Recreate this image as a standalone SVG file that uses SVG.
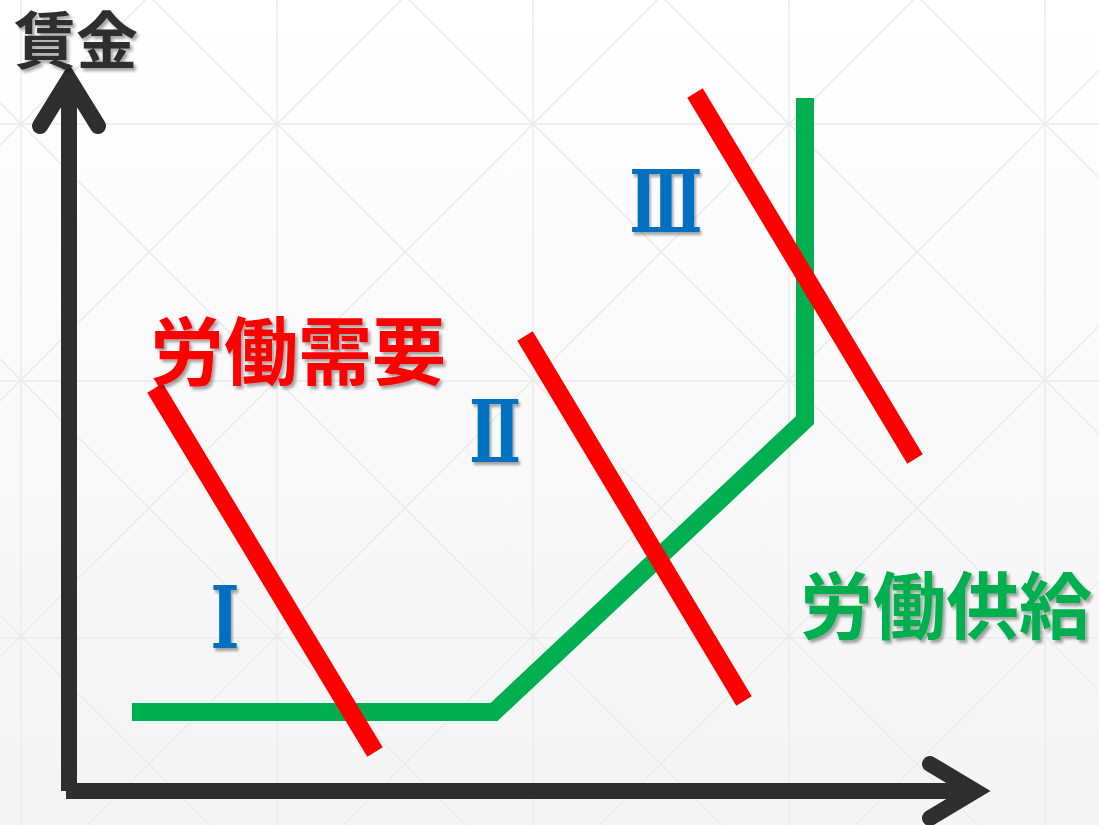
<svg xmlns="http://www.w3.org/2000/svg" width="1099" height="825" viewBox="0 0 1099 825">
<defs>
<linearGradient id="bg" x1="0" y1="0" x2="0" y2="1">
<stop offset="0" stop-color="#ffffff"/>
<stop offset="1" stop-color="#f4f4f4"/>
</linearGradient>
<filter id="sh" x="-10%" y="-10%" width="130%" height="130%">
<feDropShadow dx="2.5" dy="3" stdDeviation="1.5" flood-color="#000" flood-opacity="0.35"/>
</filter>
<style>
.grid{stroke:#ebebeb;stroke-width:1.5;fill:none}
.diag{stroke:#ebebeb;stroke-width:1.5;fill:none}
.axis{stroke:#2e2e2e;stroke-width:16;fill:none}
.head{stroke:#2e2e2e;stroke-width:16;fill:none;stroke-linecap:round;stroke-linejoin:miter;stroke-miterlimit:10}
.demand{stroke:#ff0000;stroke-width:18;fill:none}
.supply{stroke:#00b050;stroke-width:18;fill:none;stroke-linejoin:miter}
.lbl{font-family:"Noto Sans CJK JP","Noto Sans CJK SC",sans-serif;font-weight:700;filter:url(#sh)}
.num{font-family:"DejaVu Serif","Liberation Serif",serif;font-weight:700;fill:#0070c0;text-anchor:middle;filter:url(#sh)}
</style>
</defs>
<rect x="0" y="0" width="1099" height="825" fill="url(#bg)"/>
<g id="background-grid">
<path class="grid" d="M21 0V825M277 0V825M533 0V825M789 0V825M1045 0V825M0 124H1099M0 381H1099M0 638H1099"/>
<path class="diag" d="M-400 -297L1400 1503M-144 -297L1400 1247M-656 -297L1400 1759M-912 -297L1400 2015M112 -297L1400 991M368 -297L1400 735M624 -297L1400 479M880 -297L1400 223M1136 -297L1400 -33"/>
<path class="diag" d="M1500 -1355L-300 445M1500 -1099L-300 701M1500 -843L-300 957M1500 -587L-300 1213M1500 -331L-300 1469M1500 -75L-300 1725M1500 181L-300 1981M1500 437L-300 2237M1500 693L-300 2493"/>
</g>
<g id="axes">
<line class="axis" x1="69" y1="80" x2="69" y2="791"/>
<line class="axis" x1="66" y1="791" x2="975" y2="791"/>
<polyline class="head" points="40,126 69,79 98,126"/>
<polyline class="head" points="930,764 975,791 930,818"/>
</g>
<g id="connectors">
<polyline id="supply-curve" class="supply" points="132,712 494,712 805,420 805,98"/>
<line id="demand-1" class="demand" x1="155" y1="388" x2="375" y2="752"/>
<line id="demand-2" class="demand" x1="525" y1="336" x2="744" y2="701"/>
<line id="demand-3" class="demand" x1="695" y1="93" x2="915" y2="459"/>
</g>
<g id="label-wage"><text class="lbl" x="14" y="64" font-size="62" fill="#2e2e2e">賃金</text></g>
<g id="label-demand"><text class="lbl" x="150" y="379" font-size="74" fill="#ff0000">労働需要</text></g>
<g id="label-supply"><text class="lbl" x="800" y="633" font-size="73" fill="#00b050">労働供給</text></g>
<g id="label-I"><text class="num" transform="translate(225,648) scale(0.72,1)" x="0" y="0" font-size="86">Ⅰ</text></g>
<g id="label-II"><text class="num" transform="translate(495,462) scale(0.72,1)" x="0" y="0" font-size="86">Ⅱ</text></g>
<g id="label-III"><text class="num" transform="translate(666,232) scale(0.7,1)" x="0" y="0" font-size="86">Ⅲ</text></g>
</svg>
